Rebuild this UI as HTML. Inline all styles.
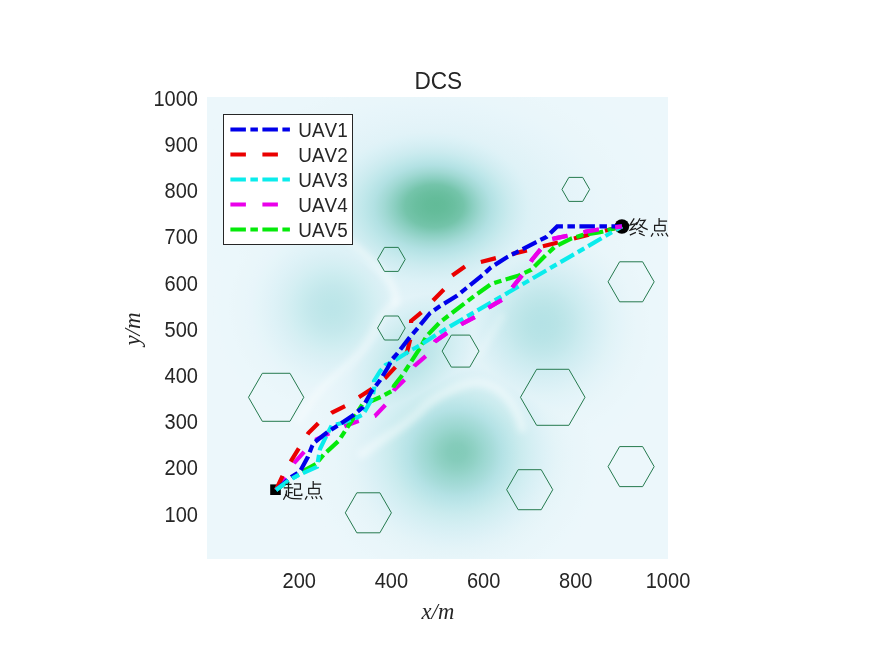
<!DOCTYPE html>
<html><head><meta charset="utf-8"><title>DCS</title>
<style>html,body{margin:0;padding:0;background:#fff;overflow:hidden}svg{display:block}text{font-family:"Liberation Sans",sans-serif;fill:#262626;font-kerning:none}.ser{font-family:"Liberation Serif",serif;font-style:italic}</style>
</head><body>
<svg width="875" height="656" viewBox="0 0 875 656">
<defs>
<clipPath id="ax"><rect x="207" y="97" width="461" height="462"/></clipPath>
<radialGradient id="b0" cx="0.5" cy="0.5" r="0.5" fx="0.5288" fy="0.4648">
<stop offset="0.0000" stop-color="#62bb98"/>
<stop offset="0.0625" stop-color="#64bc9a"/>
<stop offset="0.1250" stop-color="#6abfa0"/>
<stop offset="0.1875" stop-color="#74c4aa"/>
<stop offset="0.2500" stop-color="#8bcfc1"/>
<stop offset="0.3125" stop-color="#a1d9d4"/>
<stop offset="0.3750" stop-color="#b2e1e3"/>
<stop offset="0.4375" stop-color="#bfe7ea"/>
<stop offset="0.5000" stop-color="#cbebef"/>
<stop offset="0.5625" stop-color="#d4eef3"/>
<stop offset="0.6250" stop-color="#dbf1f6"/>
<stop offset="0.6875" stop-color="#e1f3f8"/>
<stop offset="0.7500" stop-color="#e5f4f9"/>
<stop offset="0.8125" stop-color="#e8f5fa"/>
<stop offset="0.8750" stop-color="#eaf6fa"/>
<stop offset="0.9375" stop-color="#ebf6fb"/>
<stop offset="1.0000" stop-color="#ecf7fb"/>
</radialGradient>
<radialGradient id="b1" cx="0.5" cy="0.5" r="0.5" fx="0.5135" fy="0.4855">
<stop offset="0.0000" stop-color="#82cbb8"/>
<stop offset="0.0625" stop-color="#85ccbb"/>
<stop offset="0.1250" stop-color="#8fd1c4"/>
<stop offset="0.1875" stop-color="#9bd7d0"/>
<stop offset="0.2500" stop-color="#a7dcda"/>
<stop offset="0.3125" stop-color="#b4e2e5"/>
<stop offset="0.3750" stop-color="#bfe7ea"/>
<stop offset="0.4375" stop-color="#caebee"/>
<stop offset="0.5000" stop-color="#d2eef2"/>
<stop offset="0.5625" stop-color="#d9f0f5"/>
<stop offset="0.6250" stop-color="#dff2f7"/>
<stop offset="0.6875" stop-color="#e4f4f8"/>
<stop offset="0.7500" stop-color="#e7f5f9"/>
<stop offset="0.8125" stop-color="#e9f6fa"/>
<stop offset="0.8750" stop-color="#eaf6fa"/>
<stop offset="0.9375" stop-color="#ebf7fb"/>
<stop offset="1.0000" stop-color="#ecf7fb"/>
</radialGradient>
<radialGradient id="b2" cx="0.5" cy="0.5" r="0.5" fx="0.5000" fy="0.5000">
<stop offset="0.0000" stop-color="#bce5e9"/>
<stop offset="0.0625" stop-color="#bde6e9"/>
<stop offset="0.1250" stop-color="#c0e7ea"/>
<stop offset="0.1875" stop-color="#c4e8ec"/>
<stop offset="0.2500" stop-color="#c9ebee"/>
<stop offset="0.3125" stop-color="#cfedf1"/>
<stop offset="0.3750" stop-color="#d5eff3"/>
<stop offset="0.4375" stop-color="#daf0f5"/>
<stop offset="0.5000" stop-color="#def2f7"/>
<stop offset="0.5625" stop-color="#e2f3f8"/>
<stop offset="0.6250" stop-color="#e5f5f9"/>
<stop offset="0.6875" stop-color="#e8f5fa"/>
<stop offset="0.7500" stop-color="#e9f6fa"/>
<stop offset="0.8125" stop-color="#eaf6fa"/>
<stop offset="0.8750" stop-color="#ebf7fb"/>
<stop offset="0.9375" stop-color="#ebf7fb"/>
<stop offset="1.0000" stop-color="#ecf7fb"/>
</radialGradient>
<radialGradient id="b3" cx="0.5" cy="0.5" r="0.5" fx="0.5000" fy="0.5000">
<stop offset="0.0000" stop-color="#b5e2e6"/>
<stop offset="0.0625" stop-color="#b6e3e6"/>
<stop offset="0.1250" stop-color="#b9e4e7"/>
<stop offset="0.1875" stop-color="#bee6e9"/>
<stop offset="0.2500" stop-color="#c4e8ec"/>
<stop offset="0.3125" stop-color="#cbebef"/>
<stop offset="0.3750" stop-color="#d1edf2"/>
<stop offset="0.4375" stop-color="#d7eff4"/>
<stop offset="0.5000" stop-color="#dcf1f6"/>
<stop offset="0.5625" stop-color="#e1f3f7"/>
<stop offset="0.6250" stop-color="#e4f4f9"/>
<stop offset="0.6875" stop-color="#e7f5f9"/>
<stop offset="0.7500" stop-color="#e9f6fa"/>
<stop offset="0.8125" stop-color="#eaf6fa"/>
<stop offset="0.8750" stop-color="#ebf7fb"/>
<stop offset="0.9375" stop-color="#ebf7fb"/>
<stop offset="1.0000" stop-color="#ecf7fb"/>
</radialGradient>
<radialGradient id="b4" cx="0.5" cy="0.5" r="0.5" fx="0.5000" fy="0.5000">
<stop offset="0.0000" stop-color="#b9e4e7"/>
<stop offset="0.0625" stop-color="#bae4e8"/>
<stop offset="0.1250" stop-color="#bde5e9"/>
<stop offset="0.1875" stop-color="#c1e7eb"/>
<stop offset="0.2500" stop-color="#c7eaed"/>
<stop offset="0.3125" stop-color="#cdecf0"/>
<stop offset="0.3750" stop-color="#d3eef2"/>
<stop offset="0.4375" stop-color="#d8f0f5"/>
<stop offset="0.5000" stop-color="#ddf1f6"/>
<stop offset="0.5625" stop-color="#e2f3f8"/>
<stop offset="0.6250" stop-color="#e5f4f9"/>
<stop offset="0.6875" stop-color="#e7f5fa"/>
<stop offset="0.7500" stop-color="#e9f6fa"/>
<stop offset="0.8125" stop-color="#eaf6fa"/>
<stop offset="0.8750" stop-color="#ebf7fb"/>
<stop offset="0.9375" stop-color="#ebf7fb"/>
<stop offset="1.0000" stop-color="#ecf7fb"/>
</radialGradient>
<radialGradient id="b5" cx="0.5" cy="0.5" r="0.5" fx="0.5000" fy="0.5000">
<stop offset="0.0000" stop-color="#cbebef"/>
<stop offset="0.0625" stop-color="#cbebef"/>
<stop offset="0.1250" stop-color="#cdecf0"/>
<stop offset="0.1875" stop-color="#d0edf1"/>
<stop offset="0.2500" stop-color="#d4eef3"/>
<stop offset="0.3125" stop-color="#d7eff4"/>
<stop offset="0.3750" stop-color="#dbf1f6"/>
<stop offset="0.4375" stop-color="#dff2f7"/>
<stop offset="0.5000" stop-color="#e2f3f8"/>
<stop offset="0.5625" stop-color="#e5f4f9"/>
<stop offset="0.6250" stop-color="#e7f5fa"/>
<stop offset="0.6875" stop-color="#e9f6fa"/>
<stop offset="0.7500" stop-color="#eaf6fa"/>
<stop offset="0.8125" stop-color="#ebf7fb"/>
<stop offset="0.8750" stop-color="#ebf7fb"/>
<stop offset="0.9375" stop-color="#ecf7fb"/>
<stop offset="1.0000" stop-color="#ecf7fb"/>
</radialGradient>
<filter id="bl" x="-20%" y="-20%" width="140%" height="140%"><feGaussianBlur stdDeviation="3.2"/></filter>
</defs>
<rect x="0" y="0" width="875" height="656" fill="#fff"/>
<g clip-path="url(#ax)" style="isolation:isolate">
<rect x="207" y="97" width="461" height="462" fill="#ecf7fb"/>
<ellipse cx="427" cy="212.5" rx="156.2" ry="113.6" fill="url(#b0)" style="mix-blend-mode:darken" transform="rotate(0 427 212.5)"/>
<ellipse cx="453" cy="456" rx="148" ry="138.4" fill="url(#b1)" style="mix-blend-mode:darken" transform="rotate(0 453 456)"/>
<ellipse cx="332" cy="308" rx="118.4" ry="118.4" fill="url(#b2)" style="mix-blend-mode:darken" transform="rotate(0 332 308)"/>
<ellipse cx="542" cy="324" rx="124.8" ry="128" fill="url(#b3)" style="mix-blend-mode:darken" transform="rotate(0 542 324)"/>
<ellipse cx="412" cy="357" rx="134.4" ry="89.6" fill="url(#b4)" style="mix-blend-mode:darken" transform="rotate(-48 412 357)"/>
<ellipse cx="431" cy="213" rx="249.6" ry="169.6" fill="url(#b5)" style="mix-blend-mode:darken" transform="rotate(0 431 213)"/>
<g filter="url(#bl)" fill="none" stroke="#fff" stroke-linecap="round" stroke-linejoin="round">
<path d="M338.0,232.0 C340.5,234.1 348.3,240.7 352.9,244.5 C357.4,248.3 361.2,251.0 365.3,254.8 C369.4,258.6 373.7,263.0 377.6,267.1 C381.5,271.2 385.8,275.4 388.6,279.5 C391.4,283.6 393.4,288.2 394.5,292.0 C395.6,295.8 395.3,300.3 395.5,302.0" stroke-width="7" stroke-opacity="0.42"/>
<path d="M395.5,302.0 C393.9,303.5 388.9,307.7 386.0,311.0 C383.1,314.3 380.3,318.0 378.0,322.0 C375.7,326.0 374.8,330.2 372.0,335.0 C369.2,339.8 365.7,345.5 361.0,351.0 C356.3,356.5 349.7,362.7 344.0,368.0 C338.3,373.3 332.3,377.7 327.0,383.0 C321.7,388.3 316.7,394.0 312.0,400.0 C307.3,406.0 301.2,415.8 299.0,419.0" stroke-width="7" stroke-opacity="0.385"/>
<path d="M362.0,454.0 C365.0,451.8 373.3,445.7 380.0,441.0 C386.7,436.3 395.7,430.7 402.0,426.0 C408.3,421.3 413.3,417.0 418.0,413.0 C422.7,409.0 424.6,405.8 430.0,402.0 C435.4,398.2 443.7,393.2 450.6,390.0 C457.5,386.8 465.5,384.1 471.2,383.0 C476.9,381.9 480.3,382.5 484.9,383.6 C489.5,384.7 494.5,386.9 498.6,389.8 C502.7,392.7 506.4,396.7 509.6,400.8 C512.8,404.9 515.7,410.0 517.8,414.5 C519.9,419.0 521.3,425.8 522.0,428.0" stroke-width="9" stroke-opacity="0.42"/>
<path d="M480.0,353.0 C482.2,349.3 489.3,337.2 493.0,331.0 C496.7,324.8 500.5,318.5 502.0,316.0" stroke-width="7" stroke-opacity="0.245"/>
</g>
</g>
<polygon points="589.63,189.40 582.71,177.40 568.88,177.40 561.97,189.40 568.88,201.40 582.71,201.40" fill="none" stroke="#257a4e" stroke-width="1"/>
<polygon points="405.23,259.39 398.31,247.39 384.49,247.39 377.57,259.39 384.49,271.40 398.31,271.40" fill="none" stroke="#257a4e" stroke-width="1"/>
<polygon points="405.23,328.00 398.31,316.00 384.49,316.00 377.57,328.00 384.49,340.00 398.31,340.00" fill="none" stroke="#257a4e" stroke-width="1"/>
<polygon points="478.99,351.10 469.77,335.10 451.33,335.10 442.11,351.10 451.33,367.10 469.77,367.10" fill="none" stroke="#257a4e" stroke-width="1"/>
<polygon points="654.17,281.80 642.64,261.79 619.60,261.79 608.07,281.80 619.60,301.81 642.64,301.81" fill="none" stroke="#257a4e" stroke-width="1"/>
<polygon points="303.81,397.30 289.98,373.29 262.32,373.29 248.49,397.30 262.32,421.31 289.98,421.31" fill="none" stroke="#257a4e" stroke-width="1"/>
<polygon points="585.02,397.30 568.88,369.29 536.62,369.29 520.48,397.30 536.62,425.31 568.88,425.31" fill="none" stroke="#257a4e" stroke-width="1"/>
<polygon points="654.17,466.60 642.64,446.59 619.60,446.59 608.07,466.60 619.60,486.61 642.64,486.61" fill="none" stroke="#257a4e" stroke-width="1"/>
<polygon points="552.75,489.70 541.23,469.69 518.17,469.69 506.65,489.70 518.17,509.71 541.23,509.71" fill="none" stroke="#257a4e" stroke-width="1"/>
<polygon points="391.40,512.80 379.88,492.79 356.82,492.79 345.30,512.80 356.82,532.81 379.88,532.81" fill="none" stroke="#257a4e" stroke-width="1"/>
<rect x="270.2" y="484.4" width="10.6" height="10.6" fill="#000"/>
<circle cx="621.9" cy="226.5" r="7.3" fill="#000"/>
<polyline points="276.0,490.0 294.5,462.5 304.1,451.9 314.0,440.5 329.8,433.1 345.0,426.0 358.4,421.1 366.0,418.8 375.0,416.0 385.7,404.6 394.1,390.1 404.8,379.5 414.7,365.7 426.1,355.8 435.3,341.3 448.2,332.2 461.9,323.8 476.4,316.2 489.4,307.1 504.2,298.5 513.7,285.7 522.9,274.3 532.0,259.8 541.9,247.6 547.0,240.5 554.9,238.4 569.4,235.4 586.1,231.6 600.0,229.3 622.0,226.4" fill="none" stroke="#ea00ea" stroke-width="4.2" stroke-dasharray="15.5 16.5" stroke-linejoin="miter"/>
<polyline points="276.0,490.0 283.0,475.0 291.7,459.8 299.3,447.6 308.4,433.1 319.1,422.4 332.1,412.5 345.8,405.7 359.6,396.8 371.2,389.3 385.5,377.8 395.6,366.9 407.0,352.0 410.6,338.0 411.1,321.0 422.2,311.7 433.5,300.0 444.3,289.0 451.4,276.0 465.0,266.6 480.2,262.1 622.0,226.4" fill="none" stroke="#ea0000" stroke-width="4.2" stroke-dasharray="15.5 16.5" stroke-linejoin="miter"/>
<polyline points="276.0,490.0 288.7,480.6 305.4,469.9 316.0,464.0 323.7,454.6 338.9,440.6 345.6,430.2 356.0,414.4 362.4,404.3 367.0,403.0 381.6,396.6 392.6,390.6 393.9,386.0 403.1,374.1 409.7,364.0 420.2,347.9 426.2,336.5 439.8,322.3 449.7,314.7 465.7,302.5 474.9,295.6 490.9,284.2 502.3,280.4 519.1,275.4 531.3,269.7 545.7,255.2 554.9,246.8 571.6,238.4 583.1,234.9 600.0,232.3 622.0,226.4" fill="none" stroke="#05ea0a" stroke-width="4.2" stroke-dasharray="15.5 4.5 7.5 4.5" stroke-linejoin="miter"/>
<polyline points="276.0,490.0 288.7,480.4 297.7,475.4 317.0,466.8 320.0,449.0 324.9,438.8 331.6,425.6 341.0,423.3 356.0,418.0 363.0,414.6 372.4,398.0 374.4,387.0 374.0,381.0 380.2,371.0 385.5,365.0 392.8,361.7 409.5,351.0 420.0,345.4 436.2,334.7 450.5,326.1 622.0,226.4" fill="none" stroke="#0aecec" stroke-width="4.2" stroke-dasharray="15.5 4.5 7.5 4.5" stroke-linejoin="miter"/>
<polyline points="276.0,490.0 291.3,477.0 300.0,471.6 307.8,457.1 312.1,446.1 314.0,442.7 326.7,432.7 337.1,426.0 353.6,415.0 362.5,407.6 371.5,391.5 379.8,380.6 388.0,367.3 391.5,360.0 397.4,353.4 409.7,337.4 417.5,328.3 429.9,313.2 439.8,306.3 457.3,295.6 466.5,288.0 482.5,275.1 490.9,267.4 507.7,256.8 518.3,251.4 535.8,242.3 546.5,236.9 557.2,226.4 622.0,226.4" fill="none" stroke="#0000ea" stroke-width="4.2" stroke-dasharray="15.5 4.5 7.5 4.5" stroke-linejoin="miter"/>
<clipPath id="cs"><rect x="260" y="465" width="41" height="40"/></clipPath>
<polyline clip-path="url(#cs)" points="276.0,490.0 288.7,480.4 297.7,475.4 317.0,466.8 320.0,449.0 324.9,438.8 331.6,425.6 341.0,423.3 356.0,418.0 363.0,414.6 372.4,398.0 374.4,387.0 374.0,381.0 380.2,371.0 385.5,365.0 392.8,361.7 409.5,351.0 420.0,345.4 436.2,334.7 450.5,326.1 622.0,226.4" fill="none" stroke="#0aecec" stroke-width="4.2" stroke-dasharray="15.5 4.5 7.5 4.5"/>
<clipPath id="cm"><rect x="430" y="200" width="200" height="150"/></clipPath>
<polyline clip-path="url(#cm)" points="276.0,490.0 294.5,462.5 304.1,451.9 314.0,440.5 329.8,433.1 345.0,426.0 358.4,421.1 366.0,418.8 375.0,416.0 385.7,404.6 394.1,390.1 404.8,379.5 414.7,365.7 426.1,355.8 435.3,341.3 448.2,332.2 461.9,323.8 476.4,316.2 489.4,307.1 504.2,298.5 513.7,285.7 522.9,274.3 532.0,259.8 541.9,247.6 547.0,240.5 554.9,238.4 569.4,235.4 586.1,231.6 600.0,229.3 622.0,226.4" fill="none" stroke="#ea00ea" stroke-width="4.2" stroke-dasharray="15.5 16.5"/>
<rect x="223.5" y="114.5" width="129" height="130" fill="#fff" stroke="#262626" stroke-width="1"/>
<line x1="230.4" y1="129.5" x2="290" y2="129.5" stroke="#0000ea" stroke-width="4.2" stroke-dasharray="15.5 4.5 7.5 4.5"/>
<line x1="230.4" y1="154.5" x2="290" y2="154.5" stroke="#ea0000" stroke-width="4.2" stroke-dasharray="15.5 16.5"/>
<line x1="230.4" y1="179.5" x2="290" y2="179.5" stroke="#0aecec" stroke-width="4.2" stroke-dasharray="15.5 4.5 7.5 4.5"/>
<line x1="230.4" y1="204.5" x2="290" y2="204.5" stroke="#ea00ea" stroke-width="4.2" stroke-dasharray="15.5 16.5"/>
<line x1="230.4" y1="229.5" x2="290" y2="229.5" stroke="#05ea0a" stroke-width="4.2" stroke-dasharray="15.5 4.5 7.5 4.5"/>
<g opacity="0.999">
<text transform="translate(298.3,136.5) scale(1,1.03)" font-size="18.9" fill="#000">UAV1</text>
<text transform="translate(298.3,161.5) scale(1,1.03)" font-size="18.9" fill="#000">UAV2</text>
<text transform="translate(298.3,186.5) scale(1,1.03)" font-size="18.9" fill="#000">UAV3</text>
<text transform="translate(298.3,211.5) scale(1,1.03)" font-size="18.9" fill="#000">UAV4</text>
<text transform="translate(298.3,236.5) scale(1,1.03)" font-size="18.9" fill="#000">UAV5</text>
<text transform="translate(198,521.6) scale(0.962,1.045)" font-size="20.83" text-anchor="end">100</text>
<text transform="translate(198,475.4) scale(0.962,1.045)" font-size="20.83" text-anchor="end">200</text>
<text transform="translate(198,429.2) scale(0.962,1.045)" font-size="20.83" text-anchor="end">300</text>
<text transform="translate(198,383.0) scale(0.962,1.045)" font-size="20.83" text-anchor="end">400</text>
<text transform="translate(198,336.8) scale(0.962,1.045)" font-size="20.83" text-anchor="end">500</text>
<text transform="translate(198,290.6) scale(0.962,1.045)" font-size="20.83" text-anchor="end">600</text>
<text transform="translate(198,244.4) scale(0.962,1.045)" font-size="20.83" text-anchor="end">700</text>
<text transform="translate(198,198.2) scale(0.962,1.045)" font-size="20.83" text-anchor="end">800</text>
<text transform="translate(198,152.0) scale(0.962,1.045)" font-size="20.83" text-anchor="end">900</text>
<text transform="translate(198,105.8) scale(0.962,1.045)" font-size="20.83" text-anchor="end">1000</text>
<text transform="translate(299.2,588.3) scale(0.962,1.045)" font-size="20.83" text-anchor="middle">200</text>
<text transform="translate(391.4,588.3) scale(0.962,1.045)" font-size="20.83" text-anchor="middle">400</text>
<text transform="translate(483.6,588.3) scale(0.962,1.045)" font-size="20.83" text-anchor="middle">600</text>
<text transform="translate(575.8,588.3) scale(0.962,1.045)" font-size="20.83" text-anchor="middle">800</text>
<text transform="translate(668.0,588.3) scale(0.962,1.045)" font-size="20.83" text-anchor="middle">1000</text>
<text transform="translate(438.3,89) scale(0.955,1)" font-size="23.7" text-anchor="middle" fill="#000">DCS</text>
<text class="ser" x="437.9" y="618.8" font-size="22.6" text-anchor="middle">x/m</text>
<text class="ser" transform="translate(140,329) rotate(-90)" font-size="23" text-anchor="middle">y/m</text>
<path d="M5.5,1.4V15.3 M2.5,3.3H8.6 M0.8,6.9H10.3 M5.6,11.5H9.7 M3.5,9.3L3.3,13.3L0.4,18.7 M2.3,12.8Q5.5,17.6 11,17.7L18.6,17.9 M10.9,2.8H17.4V8.2H11.6V14.3H18.8V12.4" transform="translate(283,481)" fill="none" stroke="#1c1c1c" stroke-width="1.25" stroke-linejoin="miter"/>
<path d="M8.2,0.1V7.3 M8.2,3.1H16.2 M3.7,12.9V7.3H14.2V12.9 M3.7,12.9H14.2 M2.2,15.1L0.2,18.6 M6.6,15.2L7.9,17.9 M10.6,15.2L12.1,17.9 M14.9,14.9L17.1,18.5" transform="translate(305,481)" fill="none" stroke="#1c1c1c" stroke-width="1.25" stroke-linejoin="miter"/>
<path d="M4.7,0.4L0.5,7.1L5.3,5.8 M7.4,4.3L0.8,12.1L6.7,10.3 M0.3,17.1L6.4,14.4 M10.5,0.2L6.9,7 M10.3,2.6L15.7,2.2L11.2,9L6.6,12 M10,6.2L13.7,9.6L18.2,11.6 M9,12.6L13.3,14.1 M9.5,15.1L15.2,17.8" transform="translate(629.5,218)" fill="none" stroke="#1c1c1c" stroke-width="1.25" stroke-linejoin="miter"/>
<path d="M8.2,0.1V7.3 M8.2,3.1H16.2 M3.7,12.9V7.3H14.2V12.9 M3.7,12.9H14.2 M2.2,15.1L0.2,18.6 M6.6,15.2L7.9,17.9 M10.6,15.2L12.1,17.9 M14.9,14.9L17.1,18.5" transform="translate(650.9,218)" fill="none" stroke="#1c1c1c" stroke-width="1.25" stroke-linejoin="miter"/>
</g>
</svg></body></html>
